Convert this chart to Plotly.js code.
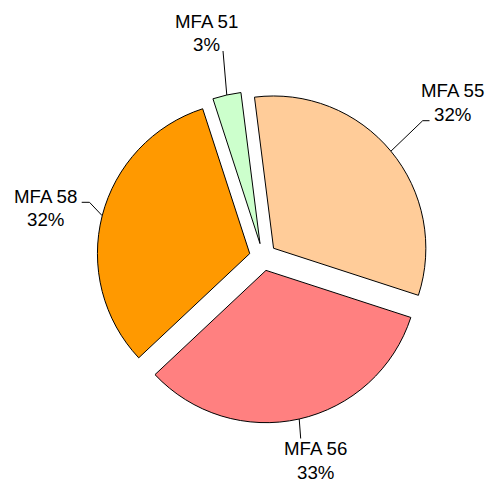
<!DOCTYPE html>
<html>
<head>
<meta charset="utf-8">
<script src="https://cdn.plot.ly/plotly-3.0.1.min.js"></script>
<style>
html,body{margin:0;padding:0;background:#fff;}
#chart{width:488px;height:484px;}
</style>
</head>
<body>
<div id="chart"></div>
<script>
// ---- data ----
const labels = ['MFA 51', 'MFA 55', 'MFA 56', 'MFA 58'];
const values = [3, 32, 33, 32];
const sliceColors = ['#CCFFCC', '#FFCC99', '#FF8080', '#FF9900'];

// ---- layout constants (pixels) ----
const W = 488, H = 484;
const CX = 263, CY = 257;      // pie centre
const HALF = 166;              // half of the pie domain box
const PULL = 0.09;
const ROT = -18;               // start angle of first slice (deg, clockwise from 12 o'clock)
const FONT = {family: 'Liberation Sans, Arial, sans-serif', size: 18.67, color: '#000'};
const PITCH = 23.5;

// label placement and leader line bend points (pixels)
const labelLayout = {
  'MFA 51': {x: 206, y: 21, pts: [[223, 51]]},
  'MFA 55': {x: 452, y: 91, pts: [[422.7, 120.7], [429.5, 120.7]]},
  'MFA 56': {x: 315.5, y: 448.5, pts: [[300.7, 438.5]]},
  'MFA 58': {x: 45, y: 196, pts: [[89.5, 202.3], [81.7, 202.3]]}
};

const px = x => x / W;
const py = y => 1 - y / H;

const total = values.reduce((a, b) => a + b, 0);

const annotations = [];
const shapes = [];
let cum = 0;
labels.forEach((lab, i) => {
  const frac = values[i] / total;
  const bis = (ROT + (cum + frac / 2) * 360) * Math.PI / 180;
  cum += frac;
  // point on the outer arc of the pulled slice, along its bisector
  const ax = CX + HALF * Math.sin(bis);
  const ay = CY - HALF * Math.cos(bis);
  const L = labelLayout[lab];
  let d = 'M ' + px(ax) + ' ' + py(ay);
  L.pts.forEach(p => { d += ' L ' + px(p[0]) + ' ' + py(p[1]); });
  shapes.push({type: 'path', xref: 'paper', yref: 'paper', path: d,
               line: {color: '#000', width: 1}});
  annotations.push({xref: 'paper', yref: 'paper', x: px(L.x), y: py(L.y),
                    xanchor: 'center', yanchor: 'middle', showarrow: false,
                    text: lab, font: FONT});
  annotations.push({xref: 'paper', yref: 'paper', x: px(L.x), y: py(L.y + PITCH),
                    xanchor: 'center', yanchor: 'middle', showarrow: false,
                    text: Math.round(frac * 100) + '%', font: FONT});
});

const trace = {
  type: 'pie',
  labels: labels,
  values: values,
  sort: false,
  direction: 'clockwise',
  rotation: ROT,
  pull: PULL,
  textinfo: 'none',
  hoverinfo: 'none',
  marker: {colors: sliceColors, line: {color: '#000', width: 1}},
  domain: {
    x: [px(CX - HALF), px(CX + HALF)],
    y: [py(CY + HALF), py(CY - HALF)]
  }
};

const layout = {
  width: W, height: H,
  margin: {l: 0, r: 0, t: 0, b: 0},
  paper_bgcolor: '#fff',
  showlegend: false,
  annotations: annotations,
  shapes: shapes
};

Plotly.newPlot('chart', [trace], layout, {displayModeBar: false, staticPlot: true});
</script>
</body>
</html>
